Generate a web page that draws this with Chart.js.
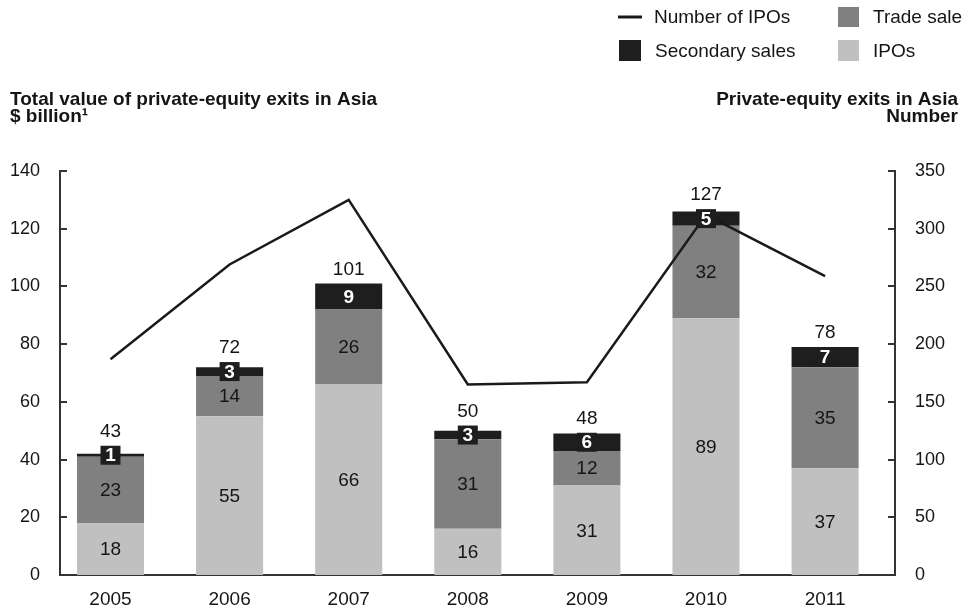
<!DOCTYPE html>
<html><head><meta charset="utf-8">
<script src="https://cdn.jsdelivr.net/npm/chart.js@4.4.1/dist/chart.umd.min.js"></script>
<style>html,body{margin:0;padding:0;background:#fff;}canvas{display:block}</style>
</head><body>
<canvas id="c" width="969" height="611"></canvas>
<script>
// ---- data ----
const categories = ['2005','2006','2007','2008','2009','2010','2011'];
const ipos = [18, 55, 66, 16, 31, 89, 37];
const tradeSales = [23, 14, 26, 31, 12, 32, 35];
const secondarySales = [1, 3, 9, 3, 6, 5, 7];
const totals = [43, 72, 101, 50, 48, 127, 78];
const numberOfIPOs = [187, 269, 325, 165, 167, 312, 259];
const leftTicks = [0, 20, 40, 60, 80, 100, 120, 140];
const rightTicks = [0, 50, 100, 150, 200, 250, 300, 350];
const seriesNames = ['IPOs', 'Trade sale', 'Secondary sales', 'Number of IPOs'];
const leftTitle = ['Total value of private-equity exits in Asia', '$ billion\u00B9'];
const rightTitle = ['Private-equity exits in Asia', 'Number'];

const FONT = "'Liberation Sans', Arial, Helvetica, sans-serif";
const C_IPO = '#c0c0c0', C_TRADE = '#808080', C_SEC = '#1e1e1e', C_LINE = '#1a1a1a', C_TEXT = '#151515', C_AXIS = '#333333';

const toXY = arr => arr.map((v, i) => ({ x: Number(categories[i]), y: v }));

const labelsPlugin = {
  id: 'segLabels',
  afterDatasetsDraw(chart) {
    const ctx = chart.ctx;
    const mI = chart.getDatasetMeta(0), mT = chart.getDatasetMeta(1), mS = chart.getDatasetMeta(2);
    ctx.save();
    ctx.textAlign = 'center';
    ctx.textBaseline = 'middle';
    categories.forEach((c, i) => {
      [[mI, ipos], [mT, tradeSales]].forEach(([m, arr]) => {
        const el = m.data[i];
        const cy = (el.y + el.base) / 2;
        ctx.fillStyle = C_TEXT;
        ctx.font = '19px ' + FONT;
        ctx.fillText(String(arr[i]), el.x, cy + 1);
      });
      const s = mS.data[i];
      const scy = (s.y + s.base) / 2;
      const bw = 20, bh = 19;
      ctx.fillStyle = C_SEC;
      ctx.fillRect(s.x - bw / 2, scy - bh / 2, bw, bh);
      ctx.fillStyle = '#ffffff';
      ctx.font = 'bold 19px ' + FONT;
      ctx.fillText(String(secondarySales[i]), s.x, scy + 1);
      const top = Math.min(s.y, scy - bh / 2);
      ctx.fillStyle = C_TEXT;
      ctx.font = '19px ' + FONT;
      ctx.fillText(String(totals[i]), s.x, top - 14);
    });
    ctx.restore();
  }
};

const decorPlugin = {
  id: 'decor',
  afterDraw(chart) {
    const ctx = chart.ctx;
    const ca = chart.chartArea;
    ctx.save();
    // inward tick marks
    ctx.strokeStyle = C_AXIS;
    ctx.lineWidth = 2;
    const yl = chart.scales.y, yr = chart.scales.y2;
    yl.ticks.forEach(t => {
      const p = Math.round(yl.getPixelForValue(t.value));
      ctx.beginPath(); ctx.moveTo(ca.left, p); ctx.lineTo(ca.left + 7, p); ctx.stroke();
    });
    yr.ticks.forEach(t => {
      const p = Math.round(yr.getPixelForValue(t.value));
      ctx.beginPath(); ctx.moveTo(ca.right, p); ctx.lineTo(ca.right - 7, p); ctx.stroke();
    });
    // axis titles
    ctx.fillStyle = C_TEXT;
    ctx.textBaseline = 'middle';
    ctx.font = 'bold 19px ' + FONT;
    ctx.textAlign = 'left';
    ctx.fillText(leftTitle[0], 10, 100);
    ctx.fillText(leftTitle[1], 10, 117);
    ctx.textAlign = 'right';
    ctx.fillText(rightTitle[0], 958, 100);
    ctx.fillText(rightTitle[1], 958, 117);
    // legend
    ctx.font = '19px ' + FONT;
    ctx.textAlign = 'left';
    ctx.strokeStyle = C_LINE;
    ctx.lineWidth = 3;
    ctx.beginPath(); ctx.moveTo(618, 17); ctx.lineTo(642, 17); ctx.stroke();
    ctx.fillText(seriesNames[3], 654, 18);
    ctx.fillStyle = C_TRADE; ctx.fillRect(838, 7, 21, 20);
    ctx.fillStyle = C_TEXT; ctx.fillText(seriesNames[1], 873, 18);
    ctx.fillStyle = C_SEC; ctx.fillRect(619, 40, 22, 21);
    ctx.fillStyle = C_TEXT; ctx.fillText(seriesNames[2], 655, 52);
    ctx.fillStyle = C_IPO; ctx.fillRect(838, 40, 21, 21);
    ctx.fillStyle = C_TEXT; ctx.fillText(seriesNames[0], 873, 52);
    ctx.restore();
  }
};

new Chart(document.getElementById('c'), {
  data: {
    labels: categories,
    datasets: [
      { type: 'bar', label: seriesNames[0], data: toXY(ipos), backgroundColor: C_IPO, yAxisID: 'y', order: 1, stack: 's' },
      { type: 'bar', label: seriesNames[1], data: toXY(tradeSales), backgroundColor: C_TRADE, yAxisID: 'y', order: 1, stack: 's' },
      { type: 'bar', label: seriesNames[2], data: toXY(secondarySales), backgroundColor: C_SEC, yAxisID: 'y', order: 1, stack: 's' },
      { type: 'line', label: seriesNames[3], data: toXY(numberOfIPOs), borderColor: C_LINE, borderWidth: 2.5,
        pointRadius: 0, tension: 0, fill: false, yAxisID: 'y2', order: 0 }
    ]
  },
  options: {
    responsive: false,
    animation: false,
    layout: { padding: { top: 171, left: 0, right: 0, bottom: 0 } },
    datasets: { bar: { categoryPercentage: 1, barPercentage: 0.563 } },
    plugins: { legend: { display: false }, title: { display: false }, tooltip: { enabled: false } },
    scales: {
      x: {
        type: 'linear',
        offset: false,
        stacked: true,
        min: Number(categories[0]) - 0.424,
        max: Number(categories[categories.length - 1]) + 0.587,
        afterBuildTicks: s => { s.ticks = categories.map(c => ({ value: Number(c) })); },
        afterFit: s => { s.height = 36; },
        grid: { display: false, drawTicks: false, offset: false },
        border: { display: true, color: C_AXIS, width: 2 },
        ticks: { padding: 13, color: C_TEXT, font: { family: FONT, size: 19 }, autoSkip: false, maxRotation: 0,
          callback: v => { const i = categories.indexOf(String(v)); return i >= 0 ? categories[i] : ''; } }
      },
      y: {
        position: 'left',
        stacked: true,
        min: 0, max: 140,
        afterBuildTicks: s => { s.ticks = leftTicks.map(v => ({ value: v })); },
        afterFit: s => { s.width = 60; },
        grid: { display: false, drawTicks: false },
        border: { display: true, color: C_AXIS, width: 2 },
        ticks: { padding: 20, color: C_TEXT, font: { family: FONT, size: 18 } }
      },
      y2: {
        position: 'right',
        min: 0, max: 350,
        afterBuildTicks: s => { s.ticks = rightTicks.map(v => ({ value: v })); },
        afterFit: s => { s.width = 74; },
        grid: { display: false, drawTicks: false },
        border: { display: true, color: C_AXIS, width: 2 },
        ticks: { padding: 20, color: C_TEXT, font: { family: FONT, size: 18 } }
      }
    }
  },
  plugins: [labelsPlugin, decorPlugin]
});
</script>
</body></html>
